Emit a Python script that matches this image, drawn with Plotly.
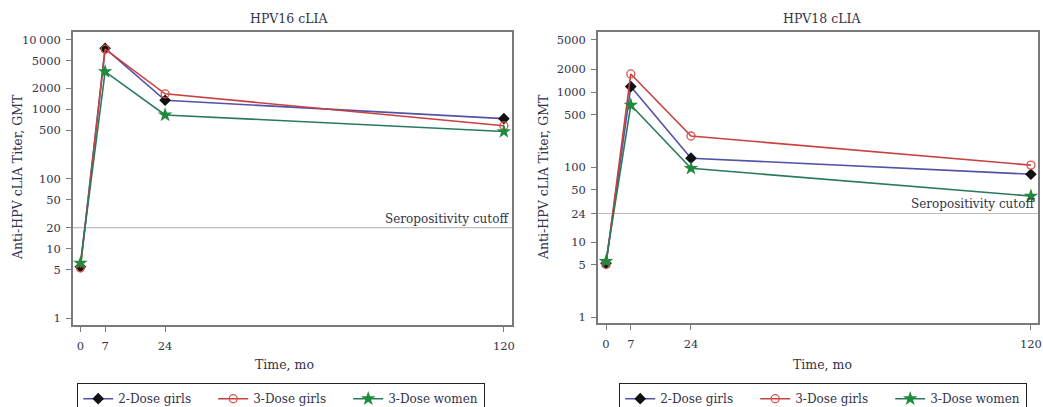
import math
import plotly.graph_objects as go

W, H = 1043, 407

months = [0, 7, 24, 120]
x_ticks = [0, 7, 24, 120]
series_names = ["2-Dose girls", "3-Dose girls", "3-Dose women"]

# HPV16 cLIA GMTs
hpv16_2dose_girls = [5.5, 7500, 1350, 735]
hpv16_3dose_girls = [5.3, 7300, 1670, 580]
hpv16_3dose_women = [6.2, 3470, 830, 480]
hpv16_cutoff = 20
hpv16_yticks = [1, 5, 10, 20, 50, 100, 500, 1000, 2000, 5000, 10000]
hpv16_yticktext = ["1", "5", "10", "20", "50", "100", "500", "1000", "2000", "5000", "10\u2009000"]

# HPV18 cLIA GMTs
hpv18_2dose_girls = [5.2, 1180, 131, 80]
hpv18_3dose_girls = [5.0, 1740, 259, 106]
hpv18_3dose_women = [5.5, 670, 96, 41]
hpv18_cutoff = 24
hpv18_yticks = [1, 5, 10, 24, 50, 100, 500, 1000, 2000, 5000]
hpv18_yticktext = ["1", "5", "10", "24", "50", "100", "500", "1000", "2000", "5000"]

FONT = "DejaVu Serif"
TXT = "#33334a"
FRAME = "#7a7a7a"

styles = [
    dict(line=dict(color="#5252a8", width=1.6),
         marker=dict(symbol="diamond", size=9, color="#111111")),
    dict(line=dict(color="#c8413f", width=1.6),
         marker=dict(symbol="circle-open", size=8, color="#d9534f", line=dict(width=1.3))),
    dict(line=dict(color="#2a7a5a", width=1.6),
         marker=dict(symbol="star", size=11, color="#1f8a3c", line=dict(width=0))),
]

fig = go.Figure()

panels = [
    dict(data=[hpv16_2dose_girls, hpv16_3dose_girls, hpv16_3dose_women],
         xa="x", ya="y", legend="legend"),
    dict(data=[hpv18_2dose_girls, hpv18_3dose_girls, hpv18_3dose_women],
         xa="x2", ya="y2", legend="legend2"),
]

for p in panels:
    for name, vals, st in zip(series_names, p["data"], styles):
        fig.add_trace(go.Scatter(
            x=months, y=vals, mode="lines+markers", name=name,
            line=st["line"], marker=st["marker"], cliponaxis=False,
            xaxis=p["xa"], yaxis=p["ya"], legend=p["legend"],
        ))

def px_x(v):
    return v / W

def px_y(v):
    return 1 - v / H

axis_common = dict(
    showgrid=False, zeroline=False, showline=True, mirror=True,
    linecolor=FRAME, linewidth=1.5, ticks="outside", ticklen=5,
    tickcolor=FRAME, tickwidth=1, automargin=False, ticklabeloverflow="allow",
    tickfont=dict(family=FONT, size=11.5, color=TXT),
)

legend_common = dict(
    orientation="h", xanchor="left", yanchor="top",
    bordercolor="#222222", borderwidth=1.2, bgcolor="white",
    font=dict(family=FONT, size=12, color=TXT), itemwidth=30,
    entrywidth=90, tracegroupgap=0,
)

fig.update_layout(
    width=W, height=H,
    margin=dict(l=0, r=0, t=0, b=0, autoexpand=False),
    paper_bgcolor="white", plot_bgcolor="white",
    showlegend=True,
    xaxis=dict(domain=[px_x(73), px_x(512)], range=[-2.1, 122.3],
               tickvals=x_ticks, ticktext=[str(t) for t in x_ticks],
               anchor="y", ticklabelstandoff=4, **axis_common),
    yaxis=dict(domain=[px_y(325), px_y(32)], type="log", range=[-0.096, 4.11],
               tickvals=hpv16_yticks, ticktext=hpv16_yticktext,
               anchor="x", ticklabelstandoff=3, **axis_common),
    xaxis2=dict(domain=[px_x(598), px_x(1038)], range=[-2.26, 122.0],
                tickvals=x_ticks, ticktext=[str(t) for t in x_ticks],
                anchor="y2", ticklabelstandoff=4, **axis_common),
    yaxis2=dict(domain=[px_y(323), px_y(32)], type="log", range=[-0.08, 3.80],
                tickvals=hpv18_yticks, ticktext=hpv18_yticktext,
                anchor="x2", ticklabelstandoff=3, **axis_common),
    legend=dict(x=px_x(77), y=px_y(383), **legend_common),
    legend2=dict(x=px_x(619), y=px_y(383), **legend_common),
)

# seropositivity cutoff lines
for xa, ya, cut in [("x", "y", hpv16_cutoff), ("x2", "y2", hpv18_cutoff)]:
    fig.add_shape(type="line", xref=f"{xa} domain", yref=ya, x0=0, x1=1, y0=cut, y1=cut,
                  line=dict(color="#bdbdbd", width=1.2), layer="below")
    fig.add_annotation(xref=f"{xa} domain", yref=ya, x=0.997, y=math.log10(cut),
                       text="Seropositivity cutoff",
                       showarrow=False, xanchor="right", yanchor="bottom", yshift=0,
                       font=dict(family=FONT, size=12, color=TXT))

# titles and axis titles
annos = [
    (289, 18, "HPV16 cLIA", 0), (822, 18, "HPV18 cLIA", 0),
    (284, 364, "Time, mo", 0), (822, 364, "Time, mo", 0),
    (17, 177, "Anti-HPV cLIA Titer, GMT", -90), (543, 177, "Anti-HPV cLIA Titer, GMT", -90),
]
for x, y, t, ang in annos:
    fig.add_annotation(xref="paper", yref="paper", x=px_x(x), y=px_y(y), text=t,
                       showarrow=False, xanchor="center", yanchor="middle", textangle=ang,
                       font=dict(family=FONT, size=12.5, color=TXT))

fig.write_html("out.html", config={"displayModeBar": False},
               post_script="document.body.style.margin='0px';document.body.style.overflow='hidden';")
